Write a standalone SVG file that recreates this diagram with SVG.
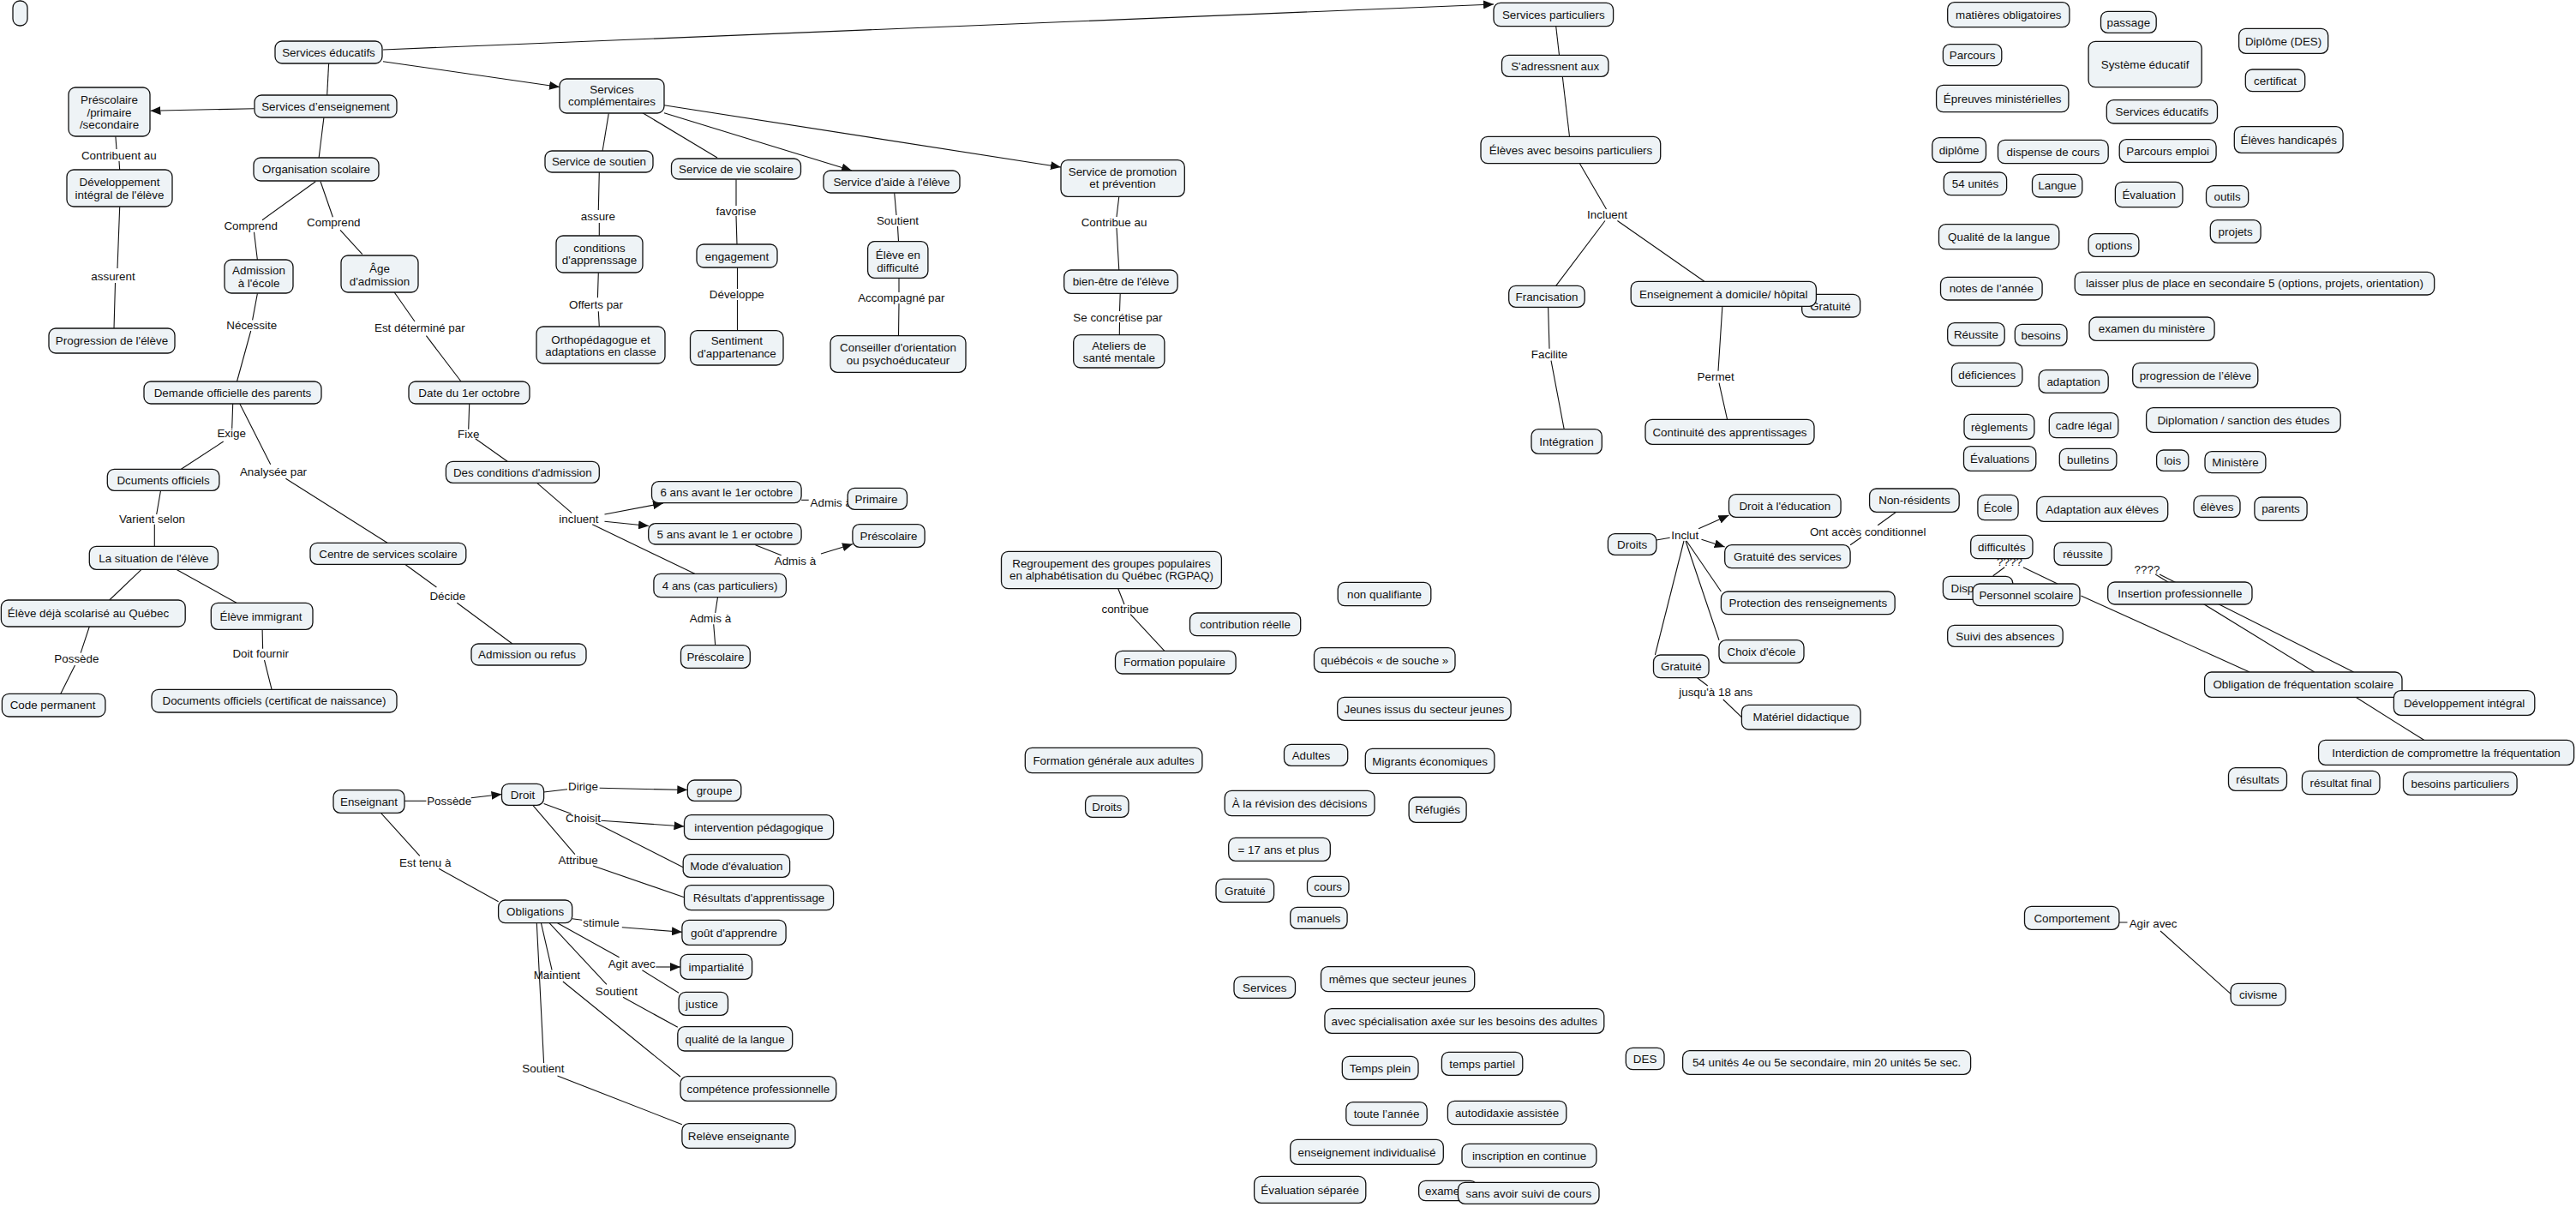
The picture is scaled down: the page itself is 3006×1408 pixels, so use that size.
<svg xmlns="http://www.w3.org/2000/svg" width="3006" height="1408" viewBox="0 0 3006 1408">
<style>
.n rect{fill:#eef3f6;stroke:#111;stroke-width:1.3;rx:8px;ry:8px}
text{font-family:"Liberation Sans",Arial,sans-serif;font-size:13.4px;fill:#111;text-anchor:middle}
.c path{fill:none;stroke:#111;stroke-width:1.1}
.c path.a{marker-end:url(#ah)}
</style>
<defs>
<marker id="ah" viewBox="0 0 12 10" refX="12" refY="5" markerWidth="12" markerHeight="10" markerUnits="userSpaceOnUse" orient="auto"><path d="M0,0 L12,5 L0,10 Z" fill="#111"/></marker>
</defs>
<rect width="3006" height="1408" fill="#fff"/>
<g id="connectors" class="c">
<path class="a" d="M447,58 L1743,5"/>
<path class="a" d="M447,71.7 L653,101.5"/>
<path d="M383.6,74 L381.7,110.7"/>
<path class="a" d="M296.5,126.7 L175.5,129.3"/>
<path d="M134.9,159.3 L136,174 M139,188 L139.7,198.3"/>
<text x="138.8" y="186.4">Contribuent au</text>
<path d="M139.7,241.3 L137,313 M134.5,330 L133,383.3"/>
<text x="132" y="327">assurent</text>
<path d="M377.9,137.3 L372.1,184.3"/>
<path d="M368.3,211.7 L306,256.7 M296.5,270.7 L300.4,303.3"/>
<text x="292.7" y="268">Comprend</text>
<path d="M374,211.7 L388.4,253.3 M397,268.3 L422.8,296.7"/>
<text x="389.3" y="264.4">Comprend</text>
<path d="M300.4,342.3 L294.6,373.3 M292.7,386 L276.5,445"/>
<text x="293.7" y="384">Nécessite</text>
<path d="M460,340.7 L484,375 M497.4,391.7 L538,445"/>
<text x="489.8" y="387.4">Est déterminé par</text>
<path d="M710.3,132.3 L703.1,176"/>
<path d="M699.3,200.7 L698.3,245 M699.3,260 L699.3,275.3"/>
<text x="697.9" y="257.4">assure</text>
<path d="M698.3,318.3 L697.4,347.3 M698.3,363.3 L699.3,381"/>
<text x="695.5" y="359.7">Offerts par</text>
<path d="M742,127 L837,184"/>
<path class="a" d="M775,131.7 L994,199"/>
<path class="a" d="M775,122.7 L1238,195"/>
<path d="M859,209.3 L859,240 M859,252 L860,285.3"/>
<text x="859" y="250.7">favorise</text>
<path d="M860.5,312.3 L860.5,337 M860.5,350 L860.5,385.7"/>
<text x="859.8" y="348">Développe</text>
<path d="M1043.7,225.3 L1046,251 M1047.5,264 L1048.5,281.7"/>
<text x="1047.5" y="262.4">Soutient</text>
<path d="M1049,324.3 L1049,341 M1049,354 L1048.5,391.7"/>
<text x="1051.8" y="352.4">Accompagné par</text>
<path d="M1305.8,229.3 L1303,253 M1303,266 L1305.8,315"/>
<text x="1300" y="264">Contribue au</text>
<path d="M1307.2,342.3 L1306.5,363 M1306.5,376 L1306.3,390.7"/>
<text x="1304.4" y="374.7">Se concrétise par</text>
<path d="M1815.7,30.7 L1819.5,64.3"/>
<path d="M1823.3,89.3 L1831.5,159.3"/>
<path d="M1843.4,190.7 L1874.5,244 M1873,257.5 L1815.7,333.3 M1887.4,257.5 L1988.8,328.3"/>
<text x="1875.5" y="254.7">Incluent</text>
<path d="M1806.6,358.3 L1808,406.7 M1810,420.7 L1825.2,500.7"/>
<text x="1808" y="418">Facilite</text>
<path d="M2009.9,357.3 L2005,432.7 M2006,446.7 L2015.6,489.3"/>
<text x="2002.2" y="444">Permet</text>
<path d="M271.7,471 L270.7,500 M260.7,515 L211.4,547.3"/>
<text x="270.2" y="510.4">Exige</text>
<path d="M279.8,471 L315.7,541.7 M333.4,558.3 L452,633.3"/>
<text x="319" y="554.7">Analysée par</text>
<path d="M187.5,572.3 L182.7,600 M180.3,611.7 L180.3,637.3"/>
<text x="177.5" y="609.7">Varient selon</text>
<path d="M165,664.3 L127.7,700"/>
<path d="M205.7,664.3 L276,703.3"/>
<path d="M104.3,731 L94.2,761.7 M87.5,776 L70.8,809.3"/>
<text x="89.4" y="773">Possède</text>
<path d="M306.1,734.3 L306.6,756.7 M308.5,770 L317.1,804.3"/>
<text x="304.2" y="767.4">Doit fournir</text>
<path d="M472.6,658.3 L509.4,685 M533.3,703.3 L597.9,751"/>
<text x="522.3" y="700.4">Décide</text>
<path d="M547.7,471 L546.7,500.7 M554.8,511.7 L592.1,538.3"/>
<text x="546.7" y="510.7">Fixe</text>
<path d="M626.6,563.3 L667.2,598.3"/>
<text x="675.4" y="609.7">incluent</text>
<path class="a" d="M705.5,600 L774,587"/>
<path class="a" d="M705.5,608.3 L757,613.5"/>
<path d="M691.2,611.7 L810.7,669.3"/>
<path d="M935.1,583.3 L943.7,583.3"/>
<text x="945.5" y="591.2" style="text-anchor:start">Admis à</text>
<path d="M881.5,635.7 L911.7,647.7"/>
<text x="927.9" y="659">Admis à</text>
<path class="a" d="M958,646 L995,634.8"/>
<path d="M837.5,696.7 L834.7,715 M832.7,728.3 L834.7,752.7"/>
<text x="828.9" y="726.4">Admis à</text>
<path d="M1304.8,686.7 L1312,705 M1319.2,716.7 L1358.9,759.3"/>
<text x="1313" y="715.4">contribue</text>
<path d="M1932.9,630 L1948.7,627.3"/>
<text x="1966.3" y="628.7">Inclut</text>
<path class="a" d="M1982.1,616.7 L2017.5,601"/>
<path class="a" d="M1985.5,629.3 L2012.7,638"/>
<path d="M1968,631 L2008.4,690"/>
<path d="M1967,631 L2006,746.7"/>
<path d="M1965,631 L1931.4,764"/>
<path d="M1980.7,790.7 L1992.7,800 M2010.8,816 L2032.4,836.7"/>
<text x="2002.2" y="812.4">jusqu'à 18 ans</text>
<path d="M2212.7,597.3 L2191.2,612.7 M2172,626.7 L2159.1,635.7"/>
<text x="2179.7" y="625.4">Ont accès conditionnel</text>
<text x="2345" y="660.4">????</text>
<path d="M2339.2,661.7 L2325.7,671.7 M2360.9,661.7 L2400.9,681"/>
<text x="2505.5" y="668.7">????</text>
<path d="M2515.2,670 L2700.8,784 M2520,670 L2746.6,784"/>
<path d="M2428.4,695 L2625.1,784"/>
<path d="M2749,813.3 L2828.6,863.3"/>
<path d="M2472.9,1076 L2482.5,1076 M2521,1086 L2603.1,1159.3"/>
<text x="2512.6" y="1082.4">Agir avec</text>
<path d="M472,934.3 L497.4,934.3"/>
<text x="524.2" y="938.7">Possède</text>
<path class="a" d="M549.7,930.7 L585.5,926.5"/>
<path d="M634.6,924 L662,920.7"/>
<text x="680.5" y="922">Dirige</text>
<path class="a" d="M699.6,919.3 L802.3,921.5"/>
<path d="M634.6,937.5 L666.5,949.3"/>
<text x="680.5" y="958.7">Choisit</text>
<path class="a" d="M701.5,957.3 L798.5,964"/>
<path d="M695.2,960 L797.2,1011.7"/>
<path d="M621.8,939.3 L670.9,996.7 M692,1010 L798.5,1046.7"/>
<text x="674.7" y="1008">Attribue</text>
<path d="M444.5,948.3 L489.8,998.3 M512.1,1013.3 L581.6,1051.7"/>
<text x="496.2" y="1010.7">Est tenu à</text>
<path d="M667.7,1071.7 L679.2,1073.3"/>
<text x="701.5" y="1081.4">stimule</text>
<path class="a" d="M725.8,1081.7 L795.9,1087.3"/>
<path d="M650.5,1076.7 L722.6,1116.7"/>
<text x="737.2" y="1128.7">Agit avec</text>
<path class="a" d="M765.3,1128 L794,1128"/>
<path d="M749.4,1131.7 L792.1,1158.3"/>
<path d="M641,1076.7 L707.9,1148.3 M727,1163.3 L790.8,1198.3"/>
<text x="719.4" y="1160.7">Soutient</text>
<path d="M631.4,1076.7 L644.1,1131.7 M656.9,1145 L794,1256"/>
<text x="649.9" y="1142.4">Maintient</text>
<path d="M626.3,1076.7 L634.6,1240 M650.5,1255 L795.9,1311.7"/>
<text x="633.9" y="1251.4">Soutient</text>
</g>
<g id="n-vide" class="n"><rect x="15" y="1" width="17" height="29"/></g>
<g id="n-services-educatifs" class="n"><rect x="321" y="48" width="125" height="26"/><text x="383.5" y="65.7">Services éducatifs</text></g>
<g id="n-services-enseignement" class="n"><rect x="297" y="111" width="166" height="26"/><text x="380" y="128.7">Services d’enseignement</text></g>
<g id="n-prescolaire-primaire-secondaire" class="n"><rect x="80" y="102" width="95" height="57"/><text x="127.5" y="121.3">Préscolaire</text><text x="127.5" y="135.7">/primaire</text><text x="127.5" y="150.3">/secondaire</text></g>
<g id="n-developpement-eleve" class="n"><rect x="78" y="198" width="123" height="43"/><text x="139.5" y="217.2">Développement</text><text x="139.5" y="231.9">intégral de l'élève</text></g>
<g id="n-progression-eleve" class="n"><rect x="57" y="383" width="147" height="29"/><text x="130.5" y="402.2">Progression de l'élève</text></g>
<g id="n-organisation-scolaire" class="n"><rect x="296" y="184" width="146" height="27"/><text x="369" y="202.2">Organisation scolaire</text></g>
<g id="n-admission-ecole" class="n"><rect x="262" y="303" width="80" height="39"/><text x="302" y="320.3">Admission</text><text x="302" y="335.3">à l'école</text></g>
<g id="n-age-admission" class="n"><rect x="398" y="298" width="90" height="43"/><text x="443" y="318">Âge</text><text x="443" y="333">d'admission</text></g>
<g id="n-demande-officielle" class="n"><rect x="168" y="445" width="207" height="26"/><text x="271.5" y="462.7">Demande officielle des parents</text></g>
<g id="n-date-1er-octobre" class="n"><rect x="477" y="445" width="141" height="26"/><text x="547.5" y="462.7">Date du 1er octobre</text></g>
<g id="n-services-complementaires" class="n"><rect x="653" y="92" width="122" height="40"/><text x="714" y="108.7">Services</text><text x="714" y="123">complémentaires</text></g>
<g id="n-service-soutien" class="n"><rect x="636" y="176" width="126" height="25"/><text x="699" y="193.2">Service de soutien</text></g>
<g id="n-conditions-apprenssage" class="n"><rect x="649" y="275" width="101" height="43"/><text x="699.5" y="293.7">conditions</text><text x="699.5" y="308">d'apprenssage</text></g>
<g id="n-orthopedagogue" class="n"><rect x="626" y="381" width="150" height="43"/><text x="701" y="400.7">Orthopédagogue et</text><text x="701" y="414.7">adaptations en classe</text></g>
<g id="n-service-vie-scolaire" class="n"><rect x="783.5" y="185" width="151" height="24"/><text x="859" y="201.7">Service de vie scolaire</text></g>
<g id="n-engagement" class="n"><rect x="813" y="285" width="94" height="27"/><text x="860" y="303.5">engagement</text></g>
<g id="n-sentiment-appartenance" class="n"><rect x="805.5" y="385.7" width="108.5" height="40.3"/><text x="859.8" y="402.4">Sentiment</text><text x="859.8" y="417">d'appartenance</text></g>
<g id="n-service-aide" class="n"><rect x="961" y="199" width="159" height="26"/><text x="1040.5" y="216.7">Service d'aide à l'élève</text></g>
<g id="n-eleve-difficulte" class="n"><rect x="1012.6" y="281.7" width="70.3" height="42.6"/><text x="1047.8" y="302">Élève en</text><text x="1047.8" y="317">difficulté</text></g>
<g id="n-conseiller" class="n"><rect x="969" y="391.7" width="158" height="42.6"/><text x="1048" y="409.7">Conseiller d'orientation</text><text x="1048" y="424.7">ou psychoéducateur</text></g>
<g id="n-service-promotion" class="n"><rect x="1238" y="186.7" width="144.3" height="42.6"/><text x="1310" y="204.7">Service de promotion</text><text x="1310" y="219">et prévention</text></g>
<g id="n-bien-etre" class="n"><rect x="1241.7" y="315" width="132.5" height="27.3"/><text x="1308" y="333.4">bien-être de l'élève</text></g>
<g id="n-ateliers" class="n"><rect x="1252.7" y="390.7" width="106.2" height="38.3"/><text x="1305.8" y="408">Ateliers de</text><text x="1305.8" y="422.4">santé mentale</text></g>
<g id="n-services-particuliers" class="n"><rect x="1743" y="3.3" width="139.6" height="27.4"/><text x="1812.8" y="21.7">Services particuliers</text></g>
<g id="n-s-adressnent" class="n"><rect x="1752.5" y="64.3" width="124.4" height="25"/><text x="1814.7" y="81.5">S'adressnent aux</text></g>
<g id="n-eleves-besoins" class="n"><rect x="1728" y="159.3" width="209.7" height="31.4"/><text x="1833" y="179.7">Élèves avec besoins particuliers</text></g>
<g id="n-francisation" class="n"><rect x="1760.7" y="333.3" width="88.5" height="25"/><text x="1805" y="350.5">Francisation</text></g>
<g id="n-gratuite-1" class="n"><rect x="2102.7" y="343.3" width="68" height="26.7"/><text x="2136" y="362">Gratuité</text></g>
<g id="n-enseignement-domicile" class="n"><rect x="1903.2" y="328.3" width="216.2" height="29"/><text x="2011.3" y="347.5">Enseignement à domicile/ hôpital</text></g>
<g id="n-integration" class="n"><rect x="1787" y="500.7" width="82.3" height="28.6"/><text x="1828" y="519.7">Intégration</text></g>
<g id="n-continuite" class="n"><rect x="1920" y="489.3" width="197" height="29"/><text x="2018.5" y="508.5">Continuité des apprentissages</text></g>
<g id="n-droits-1" class="n"><rect x="1876.4" y="622.7" width="56.5" height="24.6"/><text x="1904.6" y="639.7">Droits</text></g>
<g id="n-droit-education" class="n"><rect x="2017.5" y="576.7" width="130.6" height="26.6"/><text x="2082.8" y="594.7">Droit à l'éducation</text></g>
<g id="n-gratuite-services" class="n"><rect x="2012.7" y="635.7" width="146.4" height="27"/><text x="2085.9" y="653.9">Gratuité des services</text></g>
<g id="n-protection" class="n"><rect x="2008.4" y="690" width="202.8" height="26.7"/><text x="2109.8" y="708">Protection des renseignements</text></g>
<g id="n-choix-ecole" class="n"><rect x="2006" y="746.7" width="99" height="26.6"/><text x="2055.5" y="764.7">Choix d'école</text></g>
<g id="n-gratuite-2" class="n"><rect x="1929.5" y="764" width="64.6" height="26.7"/><text x="1961.8" y="782">Gratuité</text></g>
<g id="n-materiel" class="n"><rect x="2032.4" y="822.3" width="138.7" height="28.7"/><text x="2101.7" y="841.4">Matériel didactique</text></g>
<g id="n-non-residents" class="n"><rect x="2181.6" y="570" width="104.6" height="27.3"/><text x="2233.9" y="588.4">Non-résidents</text></g>
<g id="n-six-ans" class="n"><rect x="760.5" y="561.7" width="174.6" height="25"/><text x="847.8" y="578.9">6 ans avant le 1er octobre</text></g>
<g id="n-cinq-ans" class="n"><rect x="756.7" y="610.7" width="178.4" height="24.3"/><text x="845.9" y="627.5">5 ans avant le 1 er octobre</text></g>
<g id="n-quatre-ans" class="n"><rect x="762.9" y="669.3" width="154.5" height="27.4"/><text x="840.1" y="687.7">4 ans (cas particuliers)</text></g>
<g id="n-primaire" class="n"><rect x="989.2" y="569.3" width="69.3" height="25"/><text x="1022.5" y="586.5">Primaire</text></g>
<g id="n-prescolaire-2" class="n"><rect x="994.9" y="611.7" width="84.2" height="26.6"/><text x="1037" y="629.7">Préscolaire</text></g>
<g id="n-prescolaire-3" class="n"><rect x="794.5" y="752.7" width="80.8" height="26.6"/><text x="834.9" y="770.7">Préscolaire</text></g>
<g id="n-dcuments-officiels" class="n"><rect x="125.3" y="547.3" width="130.6" height="25"/><text x="190.6" y="564.5">Dcuments officiels</text></g>
<g id="n-situation-eleve" class="n"><rect x="104.3" y="637.3" width="150.2" height="27"/><text x="179.4" y="655.5">La situation de l'élève</text></g>
<g id="n-eleve-deja" class="n"><rect x="1.4" y="700" width="214.8" height="31"/><text x="103" y="720.2">Élève déjà scolarisé au Québec</text></g>
<g id="n-eleve-immigrant" class="n"><rect x="246.3" y="703.3" width="118.7" height="31"/><text x="304.5" y="723.5">Élève immigrant</text></g>
<g id="n-code-permanent" class="n"><rect x="2.4" y="809.3" width="120.5" height="26.7"/><text x="61.5" y="827.4">Code permanent</text></g>
<g id="n-documents-certificat" class="n"><rect x="177" y="804.3" width="286" height="26.7"/><text x="320" y="822.4">Documents officiels (certificat de naissance)</text></g>
<g id="n-centre-services" class="n"><rect x="362" y="633.3" width="181.8" height="25"/><text x="453" y="650.5">Centre de services scolaire</text></g>
<g id="n-admission-refus" class="n"><rect x="550" y="751" width="134" height="25"/><text x="615" y="768.2">Admission ou refus</text></g>
<g id="n-des-conditions" class="n"><rect x="520.4" y="538.3" width="178.9" height="25"/><text x="609.8" y="555.5">Des conditions d'admission</text></g>
<g id="n-rgpaq" class="n"><rect x="1168.5" y="643.3" width="256.9" height="43.4"/><text x="1297" y="662">Regroupement des groupes populaires</text><text x="1297" y="676.4">en alphabétisation du Québec (RGPAQ)</text></g>
<g id="n-formation-populaire" class="n"><rect x="1301.5" y="759.3" width="140.6" height="26.7"/><text x="1370.5" y="777.4">Formation populaire</text></g>
<g id="n-contribution-reelle" class="n"><rect x="1388.5" y="715" width="129.2" height="26.7"/><text x="1453" y="733">contribution réelle</text></g>
<g id="n-non-qualifiante" class="n"><rect x="1561.2" y="679.3" width="108.6" height="27.4"/><text x="1615.5" y="697.7">non qualifiante</text></g>
<g id="n-quebecois" class="n"><rect x="1533.5" y="755.7" width="164.5" height="28.6"/><text x="1615.8" y="774.7">québécois « de souche »</text></g>
<g id="n-jeunes-issus" class="n"><rect x="1560.7" y="813.3" width="202.4" height="27"/><text x="1661.9" y="831.5">Jeunes issus du secteur jeunes</text></g>
<g id="n-formation-generale" class="n"><rect x="1196.3" y="872.3" width="206.6" height="29.4"/><text x="1299.6" y="891.7">Formation générale aux adultes</text></g>
<g id="n-adultes" class="n"><rect x="1498.5" y="868.3" width="74.2" height="25"/><text x="1530" y="885.5">Adultes</text></g>
<g id="n-migrants" class="n"><rect x="1593.3" y="873.3" width="150.6" height="29"/><text x="1668.6" y="892.5">Migrants économiques</text></g>
<g id="n-droits-2" class="n"><rect x="1266.6" y="928.3" width="50.4" height="25"/><text x="1291.8" y="945.5">Droits</text></g>
<g id="n-revision" class="n"><rect x="1429.2" y="922.3" width="174.8" height="29.4"/><text x="1516.6" y="941.7">À la révision des décisions</text></g>
<g id="n-refugies" class="n"><rect x="1644.1" y="930" width="67" height="29.3"/><text x="1677.6" y="949.4">Réfugiés</text></g>
<g id="n-dix-sept-ans" class="n"><rect x="1433.7" y="977.3" width="118.6" height="27"/><text x="1492" y="995.5">= 17 ans et plus</text></g>
<g id="n-gratuite-3" class="n"><rect x="1419" y="1025.3" width="67.6" height="27"/><text x="1452.8" y="1043.5">Gratuité</text></g>
<g id="n-cours" class="n"><rect x="1525.5" y="1022.3" width="48.5" height="23.4"/><text x="1549.7" y="1038.7">cours</text></g>
<g id="n-manuels" class="n"><rect x="1505.7" y="1058.3" width="66.4" height="25"/><text x="1538.9" y="1075.5">manuels</text></g>
<g id="n-services-2" class="n"><rect x="1440" y="1139.3" width="71.5" height="25"/><text x="1475.7" y="1156.5">Services</text></g>
<g id="n-memes" class="n"><rect x="1541.5" y="1127.7" width="179.2" height="29"/><text x="1631.1" y="1146.9">mêmes que secteur jeunes</text></g>
<g id="n-avec-specialisation" class="n"><rect x="1545.9" y="1176.7" width="325.9" height="28.6"/><text x="1708.8" y="1195.7">avec spécialisation axée sur les besoins des adultes</text></g>
<g id="n-temps-plein" class="n"><rect x="1566.3" y="1232.3" width="88.7" height="27"/><text x="1610.6" y="1250.5">Temps plein</text></g>
<g id="n-temps-partiel" class="n"><rect x="1682.4" y="1227.3" width="94.4" height="27"/><text x="1729.6" y="1245.5">temps partiel</text></g>
<g id="n-des" class="n"><rect x="1897.3" y="1222.3" width="44.7" height="25.4"/><text x="1919.6" y="1239.7">DES</text></g>
<g id="n-54-unites-sec" class="n"><rect x="1963.6" y="1225.7" width="336" height="27.6"/><text x="2131.6" y="1244.2">54 unités 4e ou 5e secondaire, min 20 unités 5e sec.</text></g>
<g id="n-toute-annee" class="n"><rect x="1570.8" y="1285.7" width="94.4" height="27"/><text x="1618" y="1303.9">toute l’année</text></g>
<g id="n-autodidaxie" class="n"><rect x="1689.4" y="1284.3" width="138.4" height="27.4"/><text x="1758.6" y="1302.7">autodidaxie assistée</text></g>
<g id="n-enseignement-individualise" class="n"><rect x="1505.7" y="1329.3" width="178.6" height="29"/><text x="1595" y="1348.5">enseignement individualisé</text></g>
<g id="n-inscription" class="n"><rect x="1706" y="1334.3" width="156.9" height="27.4"/><text x="1784.5" y="1352.7">inscription en continue</text></g>
<g id="n-evaluation-separee" class="n"><rect x="1463.6" y="1372.3" width="130.2" height="31"/><text x="1528.7" y="1392.5">Évaluation séparée</text></g>
<g id="n-examen" class="n"><rect x="1655.6" y="1377.3" width="68.3" height="23.4"/><text x="1663" y="1393.7" style="text-anchor:start">examen</text></g>
<g id="n-sans-avoir" class="n"><rect x="1701.5" y="1379.3" width="164.5" height="25"/><text x="1783.8" y="1396.5">sans avoir suivi de cours</text></g>
<g id="n-enseignant" class="n"><rect x="389" y="921.7" width="83" height="26.6"/><text x="430.5" y="939.7">Enseignant</text></g>
<g id="n-droit" class="n"><rect x="585.5" y="914.3" width="49.1" height="25"/><text x="610" y="931.5">Droit</text></g>
<g id="n-groupe" class="n"><rect x="802.3" y="910" width="62.5" height="24.3"/><text x="833.5" y="926.9">groupe</text></g>
<g id="n-intervention" class="n"><rect x="798.5" y="950.7" width="174.1" height="28.6"/><text x="885.5" y="969.7">intervention pédagogique</text></g>
<g id="n-mode-evaluation" class="n"><rect x="797.2" y="996.7" width="124.4" height="26.6"/><text x="859.4" y="1014.7">Mode d'évaluation</text></g>
<g id="n-resultats-apprentissage" class="n"><rect x="798.5" y="1032.7" width="174.1" height="29"/><text x="885.5" y="1051.9">Résultats d'apprentissage</text></g>
<g id="n-obligations" class="n"><rect x="581.6" y="1050" width="86.1" height="26.7"/><text x="624.6" y="1068">Obligations</text></g>
<g id="n-gout" class="n"><rect x="795.9" y="1073.3" width="121.2" height="29"/><text x="856.5" y="1092.5">goût d'apprendre</text></g>
<g id="n-impartialite" class="n"><rect x="794" y="1113.3" width="83.6" height="29"/><text x="835.8" y="1132.5">impartialité</text></g>
<g id="n-justice" class="n"><rect x="792.1" y="1157.3" width="57.4" height="27"/><text x="819" y="1175.5">justice</text></g>
<g id="n-qualite-langue-2" class="n"><rect x="790.8" y="1197.7" width="133.9" height="28.3"/><text x="857.7" y="1216.5">qualité de la langue</text></g>
<g id="n-competence" class="n"><rect x="794" y="1255.7" width="181.8" height="28.6"/><text x="884.9" y="1274.7">compétence professionnelle</text></g>
<g id="n-releve" class="n"><rect x="795.9" y="1310.7" width="132.1" height="28.6"/><text x="862" y="1329.7">Relève enseignante</text></g>
<g id="n-matieres" class="n"><rect x="2272.7" y="2.7" width="142.2" height="29"/><text x="2343.8" y="21.9">matières obligatoires</text></g>
<g id="n-passage" class="n"><rect x="2451.5" y="13.3" width="64.7" height="25"/><text x="2483.8" y="30.5">passage</text></g>
<g id="n-diplome-des" class="n"><rect x="2612.6" y="33.3" width="104.1" height="29"/><text x="2664.6" y="52.5">Diplôme (DES)</text></g>
<g id="n-parcours" class="n"><rect x="2267.4" y="51.7" width="68.4" height="25"/><text x="2301.6" y="68.9">Parcours</text></g>
<g id="n-systeme" class="n"><rect x="2437.1" y="48.3" width="132.1" height="53.4"/><text x="2503.1" y="79.7">Système éducatif</text></g>
<g id="n-certificat" class="n"><rect x="2620.3" y="81" width="69.4" height="25.7"/><text x="2655" y="98.5">certificat</text></g>
<g id="n-epreuves" class="n"><rect x="2259.6" y="99.3" width="154.3" height="31.4"/><text x="2336.7" y="119.7">Épreuves ministérielles</text></g>
<g id="n-services-educatifs-2" class="n"><rect x="2458.3" y="116.7" width="129.2" height="27.3"/><text x="2522.9" y="135">Services éducatifs</text></g>
<g id="n-eleves-handicapes" class="n"><rect x="2607.3" y="147.7" width="126.8" height="30.6"/><text x="2670.7" y="167.7">Élèves handicapés</text></g>
<g id="n-diplome" class="n"><rect x="2254.8" y="160.7" width="62.7" height="28.6"/><text x="2286.1" y="179.7">diplôme</text></g>
<g id="n-dispense" class="n"><rect x="2331.5" y="163.3" width="128.7" height="27.4"/><text x="2395.8" y="181.7">dispense de cours</text></g>
<g id="n-parcours-emploi" class="n"><rect x="2473.2" y="162.7" width="112.9" height="26.6"/><text x="2529.6" y="180.7">Parcours emploi</text></g>
<g id="n-54-unites" class="n"><rect x="2268.3" y="201" width="73.3" height="26.7"/><text x="2305" y="219">54 unités</text></g>
<g id="n-langue" class="n"><rect x="2371.5" y="203.3" width="58.3" height="26.7"/><text x="2400.6" y="221.4">Langue</text></g>
<g id="n-evaluation" class="n"><rect x="2468.4" y="212.3" width="78.6" height="29.4"/><text x="2507.7" y="231.7">Évaluation</text></g>
<g id="n-outils" class="n"><rect x="2574.5" y="216.7" width="49.2" height="25"/><text x="2599.1" y="233.9">outils</text></g>
<g id="n-projets" class="n"><rect x="2579.3" y="256.7" width="58.8" height="26.6"/><text x="2608.7" y="274.7">projets</text></g>
<g id="n-qualite-langue" class="n"><rect x="2262.5" y="261.7" width="140.3" height="29"/><text x="2332.6" y="280.9">Qualité de la langue</text></g>
<g id="n-options" class="n"><rect x="2437.1" y="272.7" width="58.8" height="26.6"/><text x="2466.5" y="290.7">options</text></g>
<g id="n-notes-annee" class="n"><rect x="2264.5" y="323.3" width="118.6" height="26.7"/><text x="2323.8" y="341.4">notes de l’année</text></g>
<g id="n-laisser" class="n"><rect x="2421.2" y="317.3" width="419.5" height="26.7"/><text x="2631" y="335.4">laisser plus de place en secondaire 5 (options, projets, orientation)</text></g>
<g id="n-reussite" class="n"><rect x="2272.7" y="376.7" width="66.5" height="26.6"/><text x="2306" y="394.7">Réussite</text></g>
<g id="n-besoins" class="n"><rect x="2351.3" y="378.3" width="60.7" height="25"/><text x="2381.7" y="395.5">besoins</text></g>
<g id="n-examen-ministere" class="n"><rect x="2438" y="370" width="146.1" height="27.3"/><text x="2511" y="388.4">examen du ministère</text></g>
<g id="n-deficiences" class="n"><rect x="2277.5" y="423.3" width="82.4" height="27.4"/><text x="2318.7" y="441.7">déficiences</text></g>
<g id="n-adaptation" class="n"><rect x="2379.2" y="431.7" width="81" height="26.6"/><text x="2419.7" y="449.7">adaptation</text></g>
<g id="n-progression-eleve-2" class="n"><rect x="2488.7" y="423.3" width="146.1" height="29"/><text x="2561.8" y="442.5">progression de l’élève</text></g>
<g id="n-reglements" class="n"><rect x="2292" y="483.3" width="81.9" height="29"/><text x="2333" y="502.5">règlements</text></g>
<g id="n-cadre-legal" class="n"><rect x="2391.3" y="481.7" width="80.5" height="29"/><text x="2431.5" y="500.9">cadre légal</text></g>
<g id="n-diplomation" class="n"><rect x="2504.6" y="475.7" width="226.6" height="28.6"/><text x="2617.9" y="494.7">Diplomation / sanction des études</text></g>
<g id="n-evaluations" class="n"><rect x="2291.5" y="520.7" width="84.3" height="28.6"/><text x="2333.7" y="539.7">Évaluations</text></g>
<g id="n-bulletins" class="n"><rect x="2403.3" y="523.3" width="66.6" height="25"/><text x="2436.6" y="540.5">bulletins</text></g>
<g id="n-lois" class="n"><rect x="2516.6" y="525" width="37.2" height="24.3"/><text x="2535.2" y="541.9">lois</text></g>
<g id="n-ministere" class="n"><rect x="2573" y="526.7" width="70.9" height="25"/><text x="2608.5" y="543.9">Ministère</text></g>
<g id="n-ecole" class="n"><rect x="2307.9" y="577.3" width="47.2" height="29.4"/><text x="2331.5" y="596.7">École</text></g>
<g id="n-adaptation-eleves" class="n"><rect x="2376.8" y="579.3" width="152.9" height="29"/><text x="2453.2" y="598.5">Adaptation aux élèves</text></g>
<g id="n-eleves" class="n"><rect x="2560" y="578.3" width="54" height="25"/><text x="2587" y="595.5">élèves</text></g>
<g id="n-parents" class="n"><rect x="2630.9" y="580" width="61.2" height="27.3"/><text x="2661.5" y="598.4">parents</text></g>
<g id="n-difficultes" class="n"><rect x="2299.7" y="624.3" width="72.3" height="27.4"/><text x="2335.8" y="642.7">difficultés</text></g>
<g id="n-reussite-2" class="n"><rect x="2397.1" y="632.7" width="67" height="26.6"/><text x="2430.6" y="650.7">réussite</text></g>
<g id="n-disp" class="n"><rect x="2267.4" y="672.3" width="81.4" height="27"/><text x="2276.5" y="690.5" style="text-anchor:start">Disp</text></g>
<g id="n-personnel-scolaire" class="n"><rect x="2302.1" y="681" width="124.9" height="25.7"/><text x="2364.5" y="698.5">Personnel scolaire</text></g>
<g id="n-insertion" class="n"><rect x="2459.7" y="679" width="168.3" height="26"/><text x="2543.8" y="696.7">Insertion professionnelle</text></g>
<g id="n-suivi-absences" class="n"><rect x="2272.7" y="729.3" width="134.5" height="25"/><text x="2340" y="746.5">Suivi des absences</text></g>
<g id="n-obligation-frequentation" class="n"><rect x="2572.6" y="784" width="230.4" height="29.3"/><text x="2687.8" y="803.4">Obligation de fréquentation scolaire</text></g>
<g id="n-developpement-integral" class="n"><rect x="2793.4" y="805.7" width="164.4" height="28.6"/><text x="2875.6" y="824.7">Développement intégral</text></g>
<g id="n-interdiction" class="n"><rect x="2705.6" y="863.3" width="298" height="29"/><text x="2854.6" y="882.5">Interdiction de compromettre la fréquentation</text></g>
<g id="n-resultats" class="n"><rect x="2600.5" y="895.7" width="68" height="26.6"/><text x="2634.5" y="913.7">résultats</text></g>
<g id="n-resultat-final" class="n"><rect x="2686.4" y="899.3" width="90.6" height="27.4"/><text x="2731.7" y="917.7">résultat final</text></g>
<g id="n-besoins-particuliers" class="n"><rect x="2804.5" y="900.7" width="132.6" height="26.6"/><text x="2870.8" y="918.7">besoins particuliers</text></g>
<g id="n-comportement" class="n"><rect x="2362.5" y="1057.3" width="110.4" height="27"/><text x="2417.7" y="1075.5">Comportement</text></g>
<g id="n-civisme" class="n"><rect x="2603.1" y="1147.3" width="64.2" height="25.4"/><text x="2635.2" y="1164.7">civisme</text></g>
</svg>
